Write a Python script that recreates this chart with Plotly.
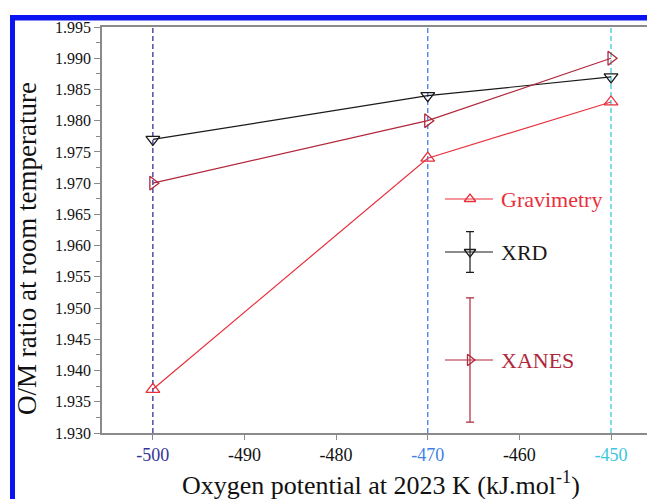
import plotly.graph_objects as go

# ---- data ----
potential = [-500, -470, -450]
gravimetry = [1.937, 1.974, 1.983]
xrd = [1.977, 1.984, 1.987]
xanes = [1.970, 1.980, 1.990]

x_tick_vals = [-500, -490, -480, -470, -460, -450]
x_tick_text = ["-500", "-490", "-480", "-470", "-460", "-450"]
y_tick_vals = [1.930, 1.935, 1.940, 1.945, 1.950, 1.955, 1.960, 1.965,
               1.970, 1.975, 1.980, 1.985, 1.990, 1.995]
y_tick_text = ["%.3f" % v for v in y_tick_vals]

ref_lines = [-500, -470, -450]
ref_colors = ["#34349a", "#3f7fe6", "#3cc6dc"]

legend_names = ["Gravimetry", "XRD", "XANES"]
legend_err = [0.0, 0.05, 0.153]

RED = "#e8303c"
BLACK = "#1a1a1a"
DARKRED = "#b0283c"
FONT = "Liberation Serif"

ref_col_map = dict(zip(ref_lines, ref_colors))
x_tick_html = []
for v, t in zip(x_tick_vals, x_tick_text):
    if v in ref_col_map:
        x_tick_html.append('<span style="color:%s">%s</span>' % (ref_col_map[v], t))
    else:
        x_tick_html.append(t)

# page body has an 8px margin: the figure is placed at (8, 8)
OFF = 8
W, H = 655 - OFF, 499 - OFF
L, T = 102 - OFF, 27 - OFF
R = 0
B = H - (433 - OFF)
pw, ph = W - L - R, H - T - B

def px2x(px):  # page pixel -> paper x
    return (px - OFF - L) / pw

def py2y(py):  # page pixel -> paper y
    return (H - B - (py - OFF)) / ph

fig = go.Figure()

for xv, c in zip(ref_lines, ref_colors):
    fig.add_vline(x=xv, line=dict(color=c, width=1.3, dash="5px,3px"), layer="below")

for name, ys, col, sym in [("XRD", xrd, BLACK, "triangle-down-open"),
                           ("XANES", xanes, DARKRED, "triangle-right-open"),
                           ("Gravimetry", gravimetry, RED, "triangle-up-open")]:
    fig.add_trace(go.Scatter(x=potential, y=ys, mode="lines+markers", name=name,
                             line=dict(color=col, width=1.2),
                             marker=dict(symbol=sym, size=12, color=col,
                                         line=dict(width=1.3, color=col))))

# ---- custom legend on overlay axes (0..1 of the plot area) ----
leg_y = [py2y(199), py2y(252), py2y(360)]
leg_col = [RED, BLACK, DARKRED]
leg_sym = ["triangle-up-open", "triangle-down-open", "triangle-right-open"]
lx0, lx1, lxm, ltx = px2x(445), px2x(493), px2x(470), px2x(499)
for name, yv, col, sym, err in zip(legend_names, leg_y, leg_col, leg_sym, legend_err):
    fig.add_trace(go.Scatter(x=[lx0, lx1], y=[yv, yv], mode="lines",
                             line=dict(color=col, width=1.2),
                             xaxis="x2", yaxis="y2", showlegend=False, hoverinfo="skip"))
    fig.add_trace(go.Scatter(x=[lxm], y=[yv], mode="markers",
                             marker=dict(symbol=sym, size=10, color=col,
                                         line=dict(width=1.3, color=col)),
                             error_y=dict(type="data", array=[err], visible=err > 0,
                                          color=col, thickness=1.2, width=4),
                             xaxis="x2", yaxis="y2", showlegend=False, hoverinfo="skip"))
    fig.add_annotation(x=ltx, y=yv, xref="x2", yref="y2", text=name, showarrow=False,
                       xanchor="left", yanchor="middle",
                       font=dict(family=FONT, size=22, color=col))

# axis titles
fig.add_annotation(x=px2x(27), y=py2y(249), xref="paper", yref="paper",
                   text="O/M ratio at room temperature", textangle=-90, showarrow=False,
                   xanchor="center", yanchor="middle",
                   font=dict(family=FONT, size=27, color="#111"))
fig.add_annotation(x=px2x(381), y=py2y(483), xref="paper", yref="paper",
                   text="Oxygen potential at 2023 K (kJ.mol<sup>-1</sup>)", showarrow=False,
                   xanchor="center", yanchor="middle",
                   font=dict(family=FONT, size=26, color="#111"))

# blue frame of the figure
fig.add_shape(type="rect", xref="paper", yref="paper",
              x0=px2x(10), x1=px2x(15), y0=py2y(520), y1=py2y(15),
              fillcolor="#0a14f0", line=dict(width=0), layer="above")
fig.add_shape(type="rect", xref="paper", yref="paper",
              x0=px2x(10), x1=px2x(680), y0=py2y(20.5), y1=py2y(15),
              fillcolor="#0a14f0", line=dict(width=0), layer="above")

fig.update_layout(
    width=W, height=H,
    margin=dict(l=L, r=R, t=T, b=B, pad=0),
    paper_bgcolor="white", plot_bgcolor="white",
    showlegend=False,
    font=dict(family=FONT, color="#111"),
    xaxis=dict(range=[-505.55, -445.2], tickvals=x_tick_vals, ticktext=x_tick_html,
               showgrid=False, zeroline=False, showline=True, linecolor="#8a8a8a",
               linewidth=1.5, mirror=True, ticks="outside", ticklen=5, tickwidth=1.2,
               tickcolor="#8a8a8a", tickfont=dict(family=FONT, size=18, color="#111")),
    yaxis=dict(range=[1.930, 1.995], tickvals=y_tick_vals, ticktext=y_tick_text,
               showgrid=False, zeroline=False, showline=True, linecolor="#8a8a8a",
               linewidth=1.5, ticks="outside", ticklen=6, tickwidth=1.2,
               tickcolor="#8a8a8a", tickfont=dict(family=FONT, size=16, color="#111"),
               minor=dict(ticks="outside", ticklen=4, dtick=0.0025, tick0=1.930,
                          tickcolor="#8a8a8a", tickwidth=1.2)),
    xaxis2=dict(range=[0, 1], overlaying="x", visible=False, anchor="y"),
    yaxis2=dict(range=[0, 1], overlaying="y", visible=False, anchor="x"),
)

fig.write_html("out.html")
